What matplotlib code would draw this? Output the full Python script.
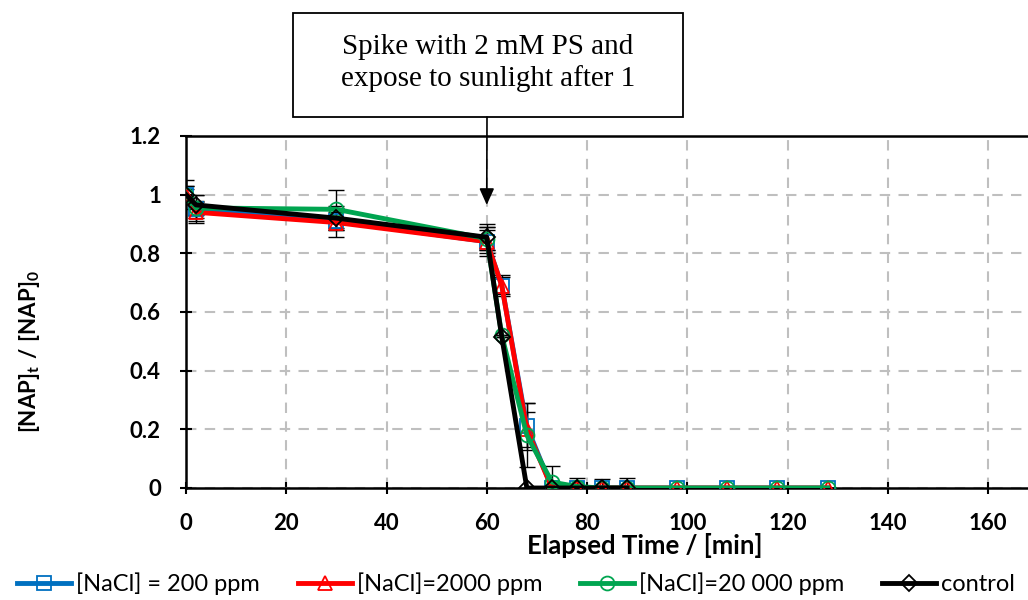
import matplotlib.pyplot as plt
from matplotlib.patches import Rectangle

plt.rcParams["font.family"] = ["Lato", "DejaVu Sans"]
plt.rcParams["mathtext.fontset"] = "custom"
plt.rcParams["mathtext.bf"] = "Lato:bold"
plt.rcParams["mathtext.rm"] = "Lato:bold"

# sampling times (min)
t_nacl = [0, 2, 30, 60, 63, 68, 73, 78, 83, 88, 98, 108, 118, 128]
t_ctrl = [0, 2, 30, 60, 63, 68, 73, 78, 83, 88]

# normalised NAP concentration [NAP]t/[NAP]0
nacl_200 = [1.0, 0.95, 0.91, 0.84, 0.69, 0.21, 0.0, 0.0, 0.0, 0.0, 0.0, 0.0, 0.0, 0.0]
nacl_2000 = [1.0, 0.94, 0.905, 0.84, 0.69, 0.20, 0.0, 0.0, 0.0, 0.0, 0.0, 0.0, 0.0, 0.0]
nacl_20000 = [1.0, 0.955, 0.95, 0.85, 0.52, 0.18, 0.02, 0.005, 0.0, 0.0, 0.0, 0.0, 0.0, 0.0]
control = [1.0, 0.965, 0.92, 0.855, 0.515, 0.0, 0.0, 0.0, 0.0, 0.0]

# standard deviations
err_200 = [0.03, 0.03, 0.03, 0.04, 0.035, 0.08, 0.0, 0.0, 0.0, 0.0, 0.0, 0.0, 0.0, 0.0]
err_2000 = [0.02, 0.035, 0.05, 0.05, 0.03, 0.06, 0.0, 0.0, 0.0, 0.0, 0.0, 0.0, 0.0, 0.0]
err_20000 = [0.05, 0.045, 0.065, 0.04, 0.0, 0.11, 0.055, 0.0, 0.0, 0.0, 0.0, 0.0, 0.0, 0.0]
err_ctrl = [0.03, 0.035, 0.04, 0.045, 0.0, 0.0, 0.0, 0.035, 0.03, 0.035]

labels = ["[NaCl] = 200 ppm", "[NaCl]=2000 ppm", "[NaCl]=20 000 ppm", "control"]
colors = ["#0070C0", "#FF0000", "#00A550", "#000000"]
markers = ["s", "^", "o", "D"]

fig = plt.figure(figsize=(10.28, 6), dpi=100)
W, H = 1028, 600
x0, x1, y0, y1 = 186, 186 + 180 * 5.0125, 488, 136
ax = fig.add_axes([x0 / W, 1 - y0 / H, (x1 - x0) / W, (y0 - y1) / H])

series = [
    (t_nacl, nacl_200, err_200),
    (t_nacl, nacl_2000, err_2000),
    (t_nacl, nacl_20000, err_20000),
    (t_ctrl, control, err_ctrl),
]
handles = []
for (t, y, e), lab, c, m in zip(series, labels, colors, markers):
    ax.errorbar(t, y, yerr=e, fmt="none", ecolor="black", elinewidth=1,
                capsize=6, capthick=1, zorder=3)
    ms = 8 if m == "D" else 10
    h, = ax.plot(t, y, color=c, lw=3.5, marker=m, ms=ms, mfc="none",
                 mec=c, mew=1.3, label=lab, zorder=4)
    handles.append(h)

ax.set_xlim(0, 180)
ax.set_ylim(0, 1.2)
ax.set_xticks(range(0, 161, 20))
ax.set_yticks([0, 0.2, 0.4, 0.6, 0.8, 1.0, 1.2])
ax.set_yticklabels(["0", "0.2", "0.4", "0.6", "0.8", "1", "1.2"])
ax.tick_params(direction="inout", length=8, width=1.5, labelsize=16)
ax.tick_params(axis="x", pad=14)
ax.tick_params(axis="y", pad=14)
for lab in ax.get_xticklabels() + ax.get_yticklabels():
    lab.set_fontweight("bold")
ax.grid(True, color="#BFBFBF", ls=(0, (5, 4)), lw=1.5)
ax.set_axisbelow(True)
for side in ["left", "bottom", "top"]:
    ax.spines[side].set_linewidth(1.8)
ax.spines["right"].set_visible(False)

fig.text(645 / W, 1 - 546 / H, "Elapsed Time / [min]", ha="center", va="center",
         fontsize=18.5, fontweight="bold")
fig.text(30 / W, 1 - 352 / H, r"$\mathbf{[NAP]_t\ /\ [NAP]_0}$",
         rotation=90, ha="center", va="center", fontsize=16)

# annotation box and arrow
fig.patches.append(Rectangle((293 / W, 1 - 117 / H), 390 / W, 104 / H,
                             transform=fig.transFigure, fill=False,
                             ec="black", lw=1.3))
fig.text(488 / W, 1 - 63 / H, "Spike with 2 mM PS and\nexpose to sunlight after 1",
         ha="center", va="center", fontsize=21, family="Liberation Serif",
         linespacing=1.2)
ax.annotate("", xy=(60, 0.965), xycoords="data",
            xytext=(487 / W, 1 - 117 / H), textcoords="figure fraction",
            arrowprops=dict(arrowstyle="-|>,head_length=1.0,head_width=0.45",
                            color="black", lw=1.2, shrinkA=0, shrinkB=0))

fig.legend(handles=handles, loc="center", bbox_to_anchor=(516 / W, 1 - 584 / H),
           ncol=4, frameon=False, fontsize=17, handlelength=2.3,
           columnspacing=1.6, handletextpad=0.2, borderaxespad=0, borderpad=0)

fig.savefig("out.png", dpi=100)
